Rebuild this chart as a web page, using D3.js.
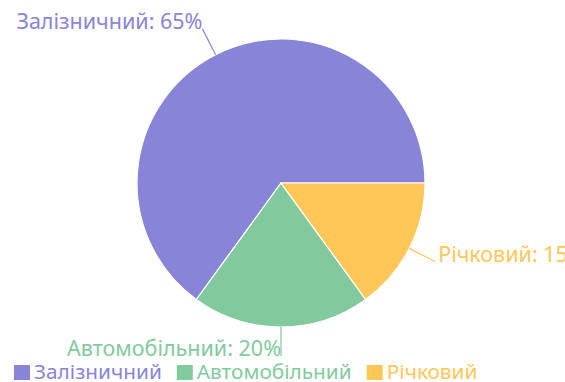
<!DOCTYPE html>
<html>
<head>
<meta charset="utf-8">
<script src="https://cdn.jsdelivr.net/npm/d3@7"></script>
<style>
  html, body { margin: 0; padding: 0; background: #fff; }
  svg { display: block; font-family: "Noto Sans", "Open Sans", sans-serif; }
</style>
</head>
<body>
<svg id="chart" width="565" height="382"></svg>
<script>
// Freight transport shares
const categories = ["Залізничний", "Автомобільний", "Річковий"];
const shares = [65, 20, 15];
const colors = ["#8884d8", "#82ca9d", "#ffc658"];

const width = 565, height = 382;
const cx = 281, cy = 183;
const outerR = 144;
const labelR = 173;
const labelFont = 21.5;
const legendFont = 20.8;

const svg = d3.select("#chart");

const data = categories.map((c, i) => ({ name: c, value: shares[i], color: colors[i] }));

// Slices run counter-clockwise starting from 3 o'clock
const pie = d3.pie()
  .value(d => d.value)
  .sort(null)
  .startAngle(Math.PI / 2)
  .endAngle(Math.PI / 2 - 2 * Math.PI);

const arcs = pie(data);
const arc = d3.arc().innerRadius(0).outerRadius(outerR);

const g = svg.append("g").attr("transform", `translate(${cx},${cy})`);

g.selectAll("path.slice")
  .data(arcs)
  .join("path")
  .attr("class", "slice")
  .attr("d", arc)
  .attr("fill", d => d.data.color)
  .attr("stroke", "#fff")
  .attr("stroke-width", 1.2);

// point on a circle of radius r at the slice's middle angle
function polar(d, r) {
  const a = (d.startAngle + d.endAngle) / 2;
  return [r * Math.sin(a), -r * Math.cos(a)];
}

g.selectAll("line.leader")
  .data(arcs)
  .join("line")
  .attr("class", "leader")
  .attr("x1", d => polar(d, outerR)[0])
  .attr("y1", d => polar(d, outerR)[1])
  .attr("x2", d => polar(d, labelR)[0])
  .attr("y2", d => polar(d, labelR)[1])
  .attr("stroke", d => d.data.color)
  .attr("stroke-width", 1.2);

g.selectAll("text.label")
  .data(arcs)
  .join("text")
  .attr("class", "label")
  .attr("x", d => polar(d, labelR)[0] + (polar(d, labelR)[0] > 0 ? 3 : 0))
  .attr("y", d => polar(d, labelR)[1])
  .attr("text-anchor", d => polar(d, labelR)[0] > 0 ? "start" : "end")
  .attr("fill", d => d.data.color)
  .attr("font-size", labelFont)
  .text(d => `${d.data.name}: ${d.data.value}%`);

// Legend along the bottom
const legend = svg.append("g").attr("transform", "translate(14,364)");
let x = 0;
data.forEach(d => {
  const item = legend.append("g").attr("transform", `translate(${x},0)`);
  item.append("rect")
    .attr("y", 1)
    .attr("width", 16).attr("height", 15)
    .attr("fill", d.color);
  const t = item.append("text")
    .attr("x", 20)
    .attr("y", 15)
    .attr("fill", d.color)
    .attr("font-size", legendFont)
    .text(d.name);
  x += 20 + t.node().getComputedTextLength() + 15;
});
</script>
</body>
</html>
